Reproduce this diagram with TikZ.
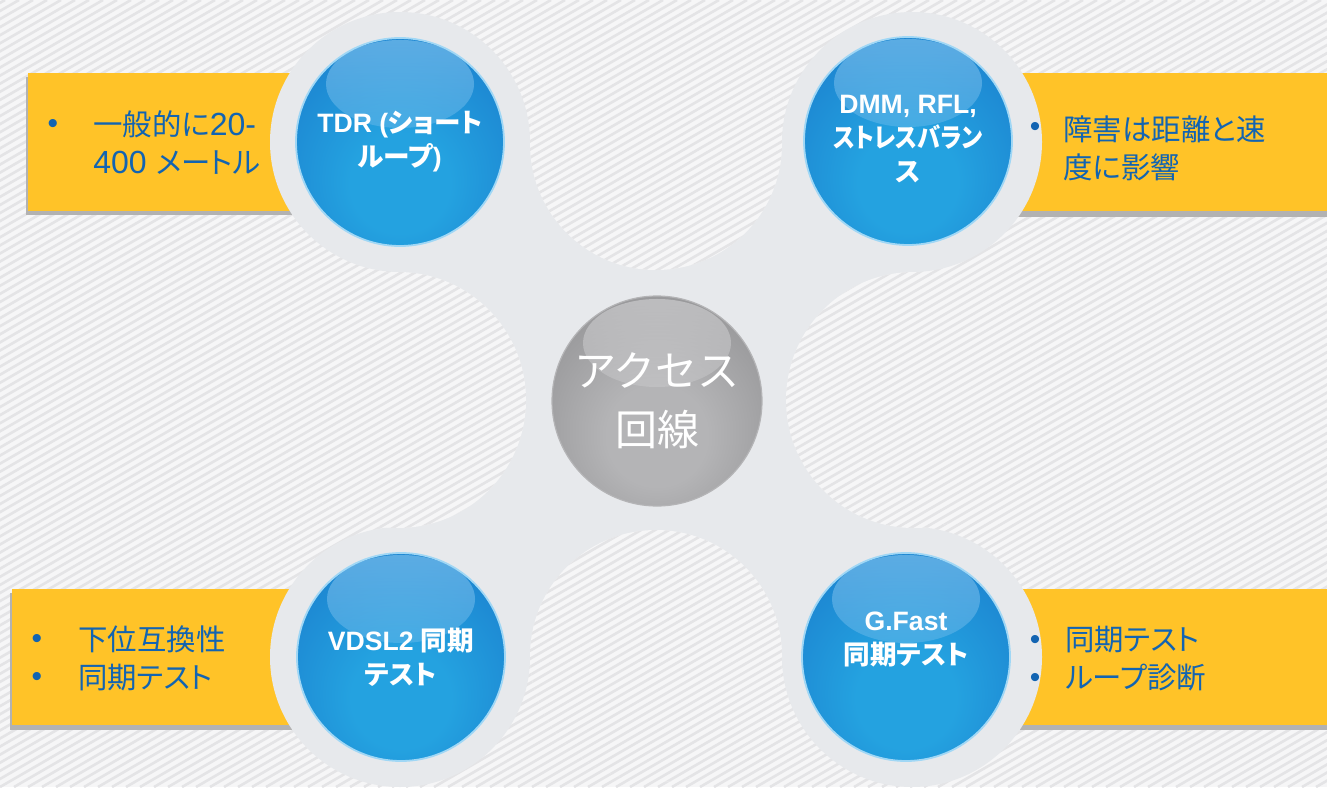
\documentclass[tikz,border=0pt]{standalone}
\usepackage{fontspec}
\setmainfont{Liberation Sans}
\newfontfamily\jp[RawFeature=+palt]{Noto Sans CJK JP}
\newfontfamily\jpw{Noto Sans CJK JP}
\usetikzlibrary{fadings}
\definecolor{bgbase}{RGB}{246,246,247}
\definecolor{bgline}{RGB}{228,228,230}
\definecolor{ringc}{RGB}{231,233,236}
\definecolor{boxy}{RGB}{255,195,40}
\definecolor{boxtext}{RGB}{18,100,178}
\definecolor{shadowc}{RGB}{178,178,178}
\definecolor{bl1}{RGB}{36,162,224}
\definecolor{bl2}{RGB}{25,120,202}
\definecolor{bl3}{RGB}{18,98,180}
\definecolor{bhl}{RGB}{135,198,240}
\definecolor{brim}{RGB}{160,215,245}
\definecolor{gr1}{RGB}{180,180,182}
\definecolor{gr2}{RGB}{138,138,140}
\definecolor{gr3}{RGB}{112,112,114}
\definecolor{ghl}{RGB}{212,212,214}
\pgfdeclareradialshading{blueshade}{\pgfpoint{0bp}{-12bp}}{color(0bp)=(bl1); color(12bp)=(bl1); color(42bp)=(bl2); color(60bp)=(bl3); color(72bp)=(bl3)}
\pgfdeclareradialshading{grayshade}{\pgfpoint{0bp}{-10bp}}{color(0bp)=(gr1); color(12bp)=(gr1); color(42bp)=(gr2); color(60bp)=(gr3); color(72bp)=(gr3)}
\newcommand\J[1]{{\jp #1}}
\newcommand\lt[1]{{\rmfamily\fontsize{16}{19}\selectfont #1}}
\newcommand\bgstripes{%
  \fill[bgbase] (0,0) rectangle (1327,787);
  \foreach \i in {-99,...,96} {\draw[bgline, line width=1.3pt] ({\i*14},787) -- ({\i*14+1363},0);}%
}
\tikzset{
  blueball/.style={circle, inner sep=0pt, minimum size=104pt, shading=blueshade,
    draw=brim, line width=0.9pt,
    path picture={\fill[bhl, fill opacity=0.6, path fading=south] ([yshift=29pt]path picture bounding box.center) ellipse[x radius=37pt, y radius=22pt];}},
  grayball/.style={circle, inner sep=0pt, minimum size=105pt, shading=grayshade,
    draw=gr1, line width=0.6pt,
    path picture={\fill[ghl, fill opacity=0.6, path fading=south] ([yshift=29pt]path picture bounding box.center) ellipse[x radius=37pt, y radius=22pt];}},
  balltext/.style={text=white, font=\bfseries\fontsize{13.3}{17}\selectfont, align=center, inner sep=0pt},
  centertext/.style={text=white, font=\jpw\fontsize{21}{29.5}\selectfont, align=center, inner sep=0pt},
  boxtxt/.style={text=boxtext, font=\jp\fontsize{14.7}{19}\selectfont, align=left, anchor=west, inner sep=0pt},
  bulletmark/.style={text=boxtext, font=\fontsize{15}{19}\selectfont, inner sep=0pt},
  yellowbox/.style={fill=boxy},
  boxshadow/.style={fill=shadowc}
}
\begin{document}
\begin{tikzpicture}[x=0.5pt, y=-0.5pt]
\useasboundingbox (0,0) rectangle (1327,787);
% background
\bgstripes
% yellow boxes with shadows
\fill[boxshadow] (26,77) rectangle (300,215);
\fill[yellowbox] (28,73) rectangle (300,211);
\fill[boxshadow] (1000,77) rectangle (1327,217);
\fill[yellowbox] (1000,73) rectangle (1327,211);
\fill[boxshadow] (10,593) rectangle (300,730);
\fill[yellowbox] (12,589) rectangle (300,725);
\fill[boxshadow] (1000,593) rectangle (1327,730);
\fill[yellowbox] (1000,589) rectangle (1327,725);
% light gray blob
\fill[ringc] (400,142) rectangle (912,657);
\foreach \p in {(400,142),(912,142),(400,657),(912,657),(656,400)}
  \fill[ringc] \p circle[radius=65pt];
% concave fillets
\begin{scope}\clip (398,400) circle[radius=64pt]; \bgstripes \end{scope}
\begin{scope}\clip (914,400) circle[radius=64pt]; \bgstripes \end{scope}
\begin{scope}\clip (656,144) circle[radius=63pt]; \bgstripes \end{scope}
\begin{scope}\clip (656,656) circle[radius=63pt]; \bgstripes \end{scope}
% balls
\node[blueball] (tdr) at (400,142) {};
\node[blueball] (dmm) at (908,141) {};
\node[blueball] (vdsl) at (401,657) {};
\node[blueball] (gfast) at (906,657) {};
\node[grayball] (acc) at (657,401) {};
% ball texts
\node[balltext] (tdrt) at (tdr) {TDR (\J{ショート}\\\J{ループ})};
\node[balltext] (dmmt) at ([yshift=1pt]dmm) {DMM, RFL,\\\scalebox{0.87}[1]{\J{ストレスバラン}}\\\J{ス}};
\node[balltext] (vdslt) at (vdsl) {VDSL2 \J{同期}\\\J{テスト}};
\node[balltext] (gfastt) at ([yshift=8.5pt]gfast) {G.Fast\\\J{同期テスト}};
\node[centertext] (acct) at (acc) {アクセス\\回線};
% box texts
\node[bulletmark] (b1) at (53,126) {•};
\node[boxtxt] (t1) at (93,143) {一般的に\lt{20-}\\\lt{400 }メートル};
\node[bulletmark] (b2) at (1035,129) {•};
\node[boxtxt] (t2) at (1063,148) {障害は距離と速\\度に影響};
\node[bulletmark] (b3) at (37,641) {•};
\node[bulletmark] (b4) at (37,679) {•};
\node[boxtxt] (t3) at (78,658) {下位互換性\\同期テスト};
\node[bulletmark] (b5) at (1035,642) {•};
\node[bulletmark] (b6) at (1035,680) {•};
\node[boxtxt] (t4) at (1065,659) {同期テスト\\ループ診断};
\end{tikzpicture}
\end{document}
